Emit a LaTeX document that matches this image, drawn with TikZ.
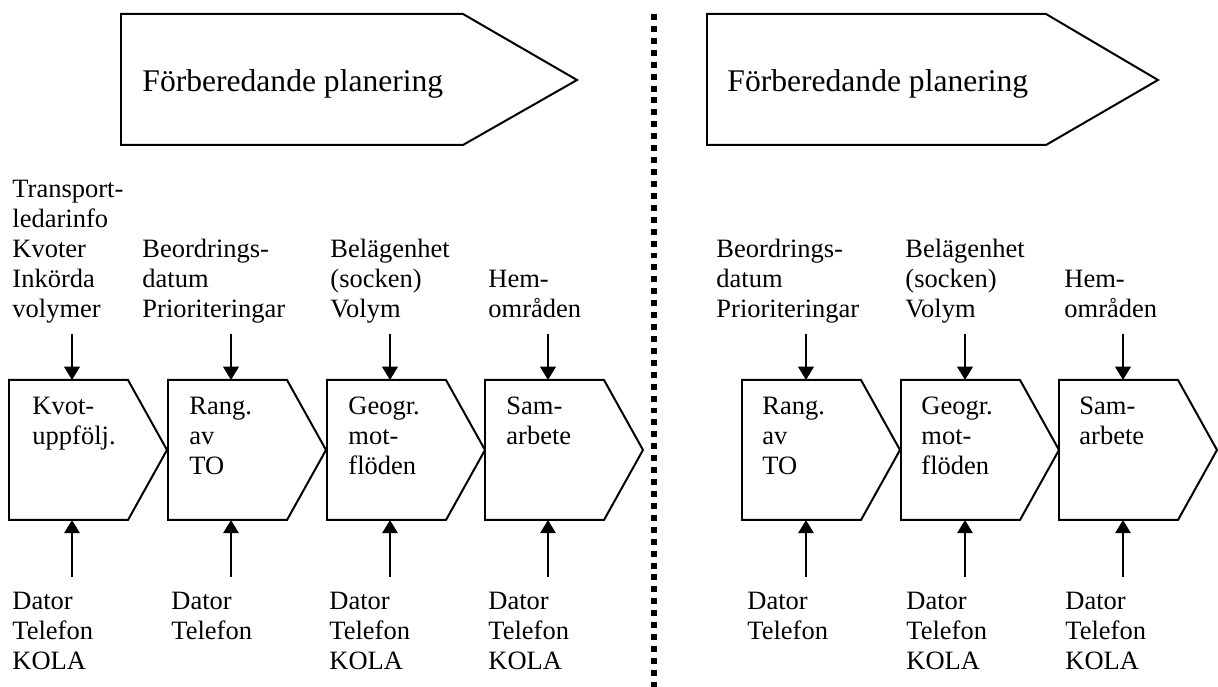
\documentclass[tikz,border=0pt]{standalone}
\usepackage{fontspec}
\setmainfont{Liberation Serif}
\usetikzlibrary{arrows.meta}

\begin{document}
\begin{tikzpicture}[x=0.4528pt, y=-0.4528pt,
  chev/.style={line width=0.9pt, line join=miter},
  lbl/.style={anchor=base west, inner sep=0pt, align=left, font=\fontsize{12}{13.6}\selectfont},
  head/.style={anchor=base west, inner sep=0pt, font=\fontsize{14.3}{17}\selectfont},
  flow/.style={line width=0.9pt, -{Triangle[length=6pt, width=7pt]}},
  divider/.style={line width=2.7pt, dash pattern=on 2.7pt off 2.7pt}]
  \useasboundingbox (0,0) rectangle (1218,687);

  % Phase banners
  \draw[chev] (121,14) -- (463,14) -- (577,80) -- (463,145) -- (121,145) -- cycle;
  \node[head] (lhead) at (142,92) {Förberedande planering};
  \draw[chev] (707,14) -- (1046,14) -- (1158,80) -- (1046,145) -- (707,145) -- cycle;
  \node[head] (rhead) at (727,92) {Förberedande planering};

  % Divider
  \coordinate (dtop) at (654,14);
  \coordinate (dbot) at (654,687);
  \draw[divider] (dtop) -- (dbot);

  % Left half: process steps
  \draw[chev] (9,380) -- ++(119,0) -- ++(39,70) -- ++(-39,70) -- ++(-119,0) -- cycle;
  \draw[chev] (168,380) -- ++(119,0) -- ++(39,70) -- ++(-39,70) -- ++(-119,0) -- cycle;
  \draw[chev] (327,380) -- ++(119,0) -- ++(39,70) -- ++(-39,70) -- ++(-119,0) -- cycle;
  \draw[chev] (485,380) -- ++(119,0) -- ++(39,70) -- ++(-39,70) -- ++(-119,0) -- cycle;

  % (base anchor = last line)
  \node[lbl] (lstep1) at (32,445) {Kvot-\\uppfölj.};
  \node[lbl] (lstep2) at (189,475) {Rang.\\av\\TO};
  \node[lbl] (lstep3) at (348,475) {Geogr.\\mot-\\flöden};
  \node[lbl] (lstep4) at (506,445) {Sam-\\arbete};

  % Left half: information in
  \node[lbl] (lin1) at (12,318) {Transport-\\ledarinfo\\Kvoter\\Inkörda\\volymer};
  \node[lbl] (lin2) at (142,318) {Beordrings-\\datum\\Prioriteringar};
  \node[lbl] (lin3) at (330,318) {Belägenhet\\(socken)\\Volym};
  \node[lbl] (lin4) at (488,318) {Hem-\\områden};

  % Left half: tools
  \node[lbl] (ltool1) at (12,670) {Dator\\Telefon\\KOLA};
  \node[lbl] (ltool2) at (171,640) {Dator\\Telefon};
  \node[lbl] (ltool3) at (329,670) {Dator\\Telefon\\KOLA};
  \node[lbl] (ltool4) at (488,670) {Dator\\Telefon\\KOLA};

  \coordinate (lin1e) at (72,334);   \coordinate (ltop1) at (72,380);
  \coordinate (lin2e) at (231,334);  \coordinate (ltop2) at (231,380);
  \coordinate (lin3e) at (390,334);  \coordinate (ltop3) at (390,380);
  \coordinate (lin4e) at (548,334);  \coordinate (ltop4) at (548,380);
  \coordinate (ltool1e) at (72,577);  \coordinate (lbot1) at (72,520);
  \coordinate (ltool2e) at (231,577); \coordinate (lbot2) at (231,520);
  \coordinate (ltool3e) at (390,577); \coordinate (lbot3) at (390,520);
  \coordinate (ltool4e) at (548,577); \coordinate (lbot4) at (548,520);

  \draw[flow] (lin1e) -- (ltop1);
  \draw[flow] (lin2e) -- (ltop2);
  \draw[flow] (lin3e) -- (ltop3);
  \draw[flow] (lin4e) -- (ltop4);
  \draw[flow] (ltool1e) -- (lbot1);
  \draw[flow] (ltool2e) -- (lbot2);
  \draw[flow] (ltool3e) -- (lbot3);
  \draw[flow] (ltool4e) -- (lbot4);

  % Right half: process steps
  \draw[chev] (742,380) -- ++(119,0) -- ++(39,70) -- ++(-39,70) -- ++(-119,0) -- cycle;
  \draw[chev] (901,380) -- ++(119,0) -- ++(39,70) -- ++(-39,70) -- ++(-119,0) -- cycle;
  \draw[chev] (1059,380) -- ++(119,0) -- ++(39,70) -- ++(-39,70) -- ++(-119,0) -- cycle;

  \node[lbl] (rstep2) at (762,475) {Rang.\\av\\TO};
  \node[lbl] (rstep3) at (921,475) {Geogr.\\mot-\\flöden};
  \node[lbl] (rstep4) at (1079,445) {Sam-\\arbete};

  % Right half: information in
  \node[lbl] (rin2) at (716,318) {Beordrings-\\datum\\Prioriteringar};
  \node[lbl] (rin3) at (905,318) {Belägenhet\\(socken)\\Volym};
  \node[lbl] (rin4) at (1064,318) {Hem-\\områden};

  % Right half: tools
  \node[lbl] (rtool2) at (747,640) {Dator\\Telefon};
  \node[lbl] (rtool3) at (906,670) {Dator\\Telefon\\KOLA};
  \node[lbl] (rtool4) at (1065,670) {Dator\\Telefon\\KOLA};

  \coordinate (rin2e) at (806,334);   \coordinate (rtop2) at (806,380);
  \coordinate (rin3e) at (965,334);   \coordinate (rtop3) at (965,380);
  \coordinate (rin4e) at (1123,334);  \coordinate (rtop4) at (1123,380);
  \coordinate (rtool2e) at (806,577); \coordinate (rbot2) at (806,520);
  \coordinate (rtool3e) at (965,577); \coordinate (rbot3) at (965,520);
  \coordinate (rtool4e) at (1123,577); \coordinate (rbot4) at (1123,520);

  \draw[flow] (rin2e) -- (rtop2);
  \draw[flow] (rin3e) -- (rtop3);
  \draw[flow] (rin4e) -- (rtop4);
  \draw[flow] (rtool2e) -- (rbot2);
  \draw[flow] (rtool3e) -- (rbot3);
  \draw[flow] (rtool4e) -- (rbot4);
\end{tikzpicture}
\end{document}
